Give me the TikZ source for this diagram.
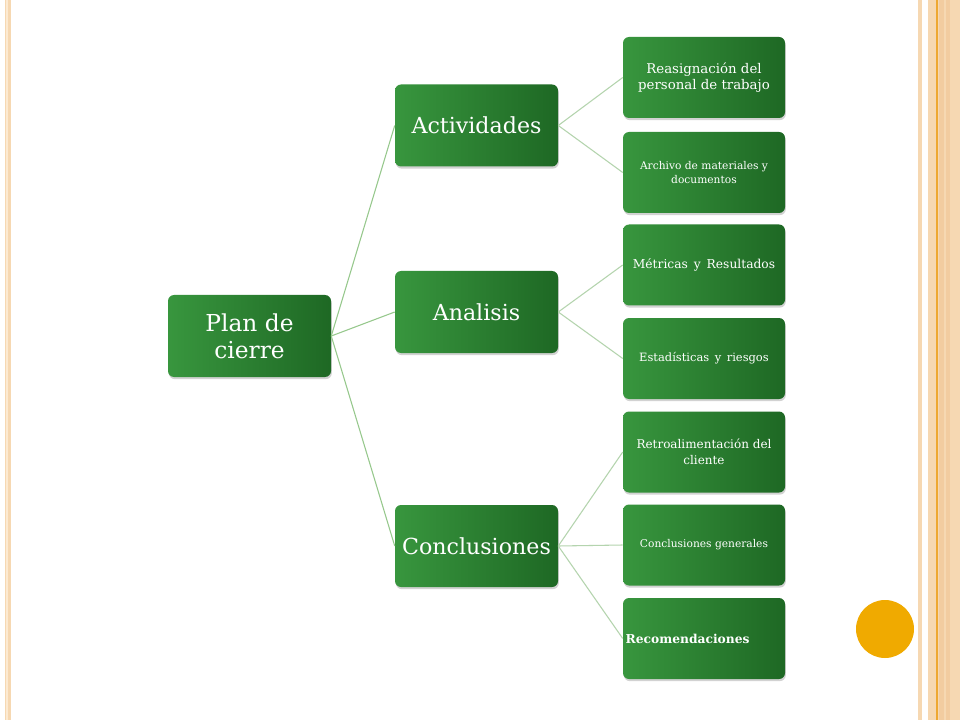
\documentclass[tikz,border=0pt]{standalone}
\usepackage{fontspec}
\setmainfont{DejaVu Serif}
\usetikzlibrary{shadows}
\definecolor{peach}{RGB}{246,216,178}
\definecolor{peachlight}{RGB}{252,234,210}
\definecolor{peachdark}{RGB}{242,204,160}
\definecolor{orangeline}{RGB}{238,168,50}
\definecolor{dotorange}{RGB}{240,170,0}
\definecolor{gleft}{RGB}{56,150,62}
\definecolor{gmid}{RGB}{64,162,70}
\definecolor{gright}{RGB}{30,104,36}
\definecolor{linkA}{RGB}{150,200,140}
\definecolor{linkB}{RGB}{180,212,174}
\tikzset{
  gbox/.style={rounded corners=4.5pt, left color=gleft, middle color=gmid, right color=gright,
    draw=none, text=white, align=center,
    drop shadow={opacity=0.35, shadow xshift=0.6pt, shadow yshift=-1.6pt}},
  rootbox/.style={gbox, minimum width=122.25pt, minimum height=61.5pt,
    font=\fontsize{17.5}{20}\selectfont},
  midbox/.style={gbox, minimum width=122.25pt, minimum height=61.5pt,
    font=\fontsize{16.6}{20}\selectfont},
  leafbox/.style={gbox, minimum width=121.5pt, minimum height=60.75pt},
  linkone/.style={draw=linkA, line width=0.8pt},
  linktwo/.style={draw=linkB, line width=0.8pt}
}
\begin{document}
\begin{tikzpicture}[x=0.75pt,y=-0.75pt]
\useasboundingbox (0,0) rectangle (960,720);
% background stripes
\fill[white] (0,0) rectangle (960,720);
\fill[peach] (5,0) rectangle (11,720);
\fill[peachlight] (6,0) rectangle (7.5,720);
\fill[peach] (918,0) rectangle (922,720);
\fill[peach] (928,0) rectangle (960,720);
\fill[orangeline] (936,0) rectangle (937.5,720);
\fill[peachdark] (939,0) rectangle (944,720);
\fill[peachdark] (946,0) rectangle (950,720);
% decorative dot
\fill[dotorange] (885,629) circle (29);
% nodes
\node[rootbox] (plan) at (249.5,336) {Plan de\\cierre};
\node[midbox] (act) at (476.5,125.5) {Actividades};
\node[midbox] (ana) at (476.5,312) {Analisis};
\node[midbox] (con) at (476.5,546) {Conclusiones};
\node[leafbox, font=\fontsize{10}{12.2}\selectfont] (l1) at (704,77.5) {Reasignación del\\personal de trabajo};
\node[leafbox, font=\fontsize{8}{11}\selectfont] (l2) at (704,172.5) {Archivo de materiales y\\documentos};
\node[leafbox, font=\fontsize{9.2}{11}\selectfont] (l3) at (704,265) {Métricas\, y\, Resultados};
\node[leafbox, font=\fontsize{8.6}{11}\selectfont] (l4) at (704,358.5) {Estadísticas\, y\, riesgos};
\node[leafbox, font=\fontsize{9}{12}\selectfont] (l5) at (704,452) {Retroalimentación del\\cliente};
\node[leafbox, font=\fontsize{8}{11}\selectfont] (l6) at (704,545) {Conclusiones generales};
\node[leafbox] (l7) at (704,638.5) {};
\node[anchor=west, text=white, font=\bfseries\fontsize{9.2}{12}\selectfont, inner sep=0pt] (l7t) at ([xshift=2pt]l7.west) {Recomendaciones};
% connectors
\draw[linkone] (plan.east) -- (act.west);
\draw[linkone] (plan.east) -- (ana.west);
\draw[linkone] (plan.east) -- (con.west);
\draw[linktwo] (act.east) -- (l1.west);
\draw[linktwo] (act.east) -- (l2.west);
\draw[linktwo] (ana.east) -- (l3.west);
\draw[linktwo] (ana.east) -- (l4.west);
\draw[linktwo] (con.east) -- (l5.west);
\draw[linktwo] (con.east) -- (l6.west);
\draw[linktwo] (con.east) -- (l7.west);
\end{tikzpicture}
\end{document}
